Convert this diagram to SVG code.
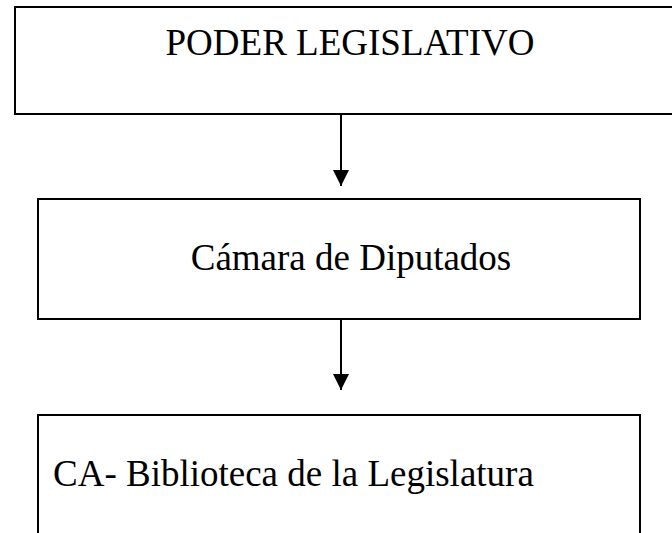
<svg xmlns="http://www.w3.org/2000/svg" width="672" height="533" viewBox="0 0 672 533">
<defs>
<style>
.box{fill:#fff;stroke:#000;stroke-width:2}
.lbl{font-family:"Liberation Serif","Times New Roman",serif;font-size:37px;fill:#000}
.conn{stroke:#000;stroke-width:2;fill:none}
</style>
<marker id="ah" markerWidth="8" markerHeight="8" refX="8" refY="4" orient="auto" markerUnits="strokeWidth">
<path d="M0,0 L8,4 L0,8 Z" fill="#000"/>
</marker>
</defs>
<rect width="672" height="533" fill="#fff"/>
<g id="node-poder">
<rect class="box" x="15" y="7" width="680" height="107"/>
<text class="lbl" x="350" y="55" text-anchor="middle">PODER LEGISLATIVO</text>
</g>
<g id="node-camara">
<rect class="box" x="38" y="199" width="602" height="120"/>
<text class="lbl" x="351" y="270" text-anchor="middle">Cámara de Diputados</text>
</g>
<g id="node-biblioteca">
<rect class="box" x="38" y="415" width="602" height="150"/>
<text class="lbl" x="53" y="486">CA- Biblioteca de la Legislatura</text>
</g>
<g id="connectors">
<line class="conn" x1="341" y1="114" x2="341" y2="186" marker-end="url(#ah)"/>
<line class="conn" x1="341" y1="319" x2="341" y2="390" marker-end="url(#ah)"/>
</g>
</svg>
